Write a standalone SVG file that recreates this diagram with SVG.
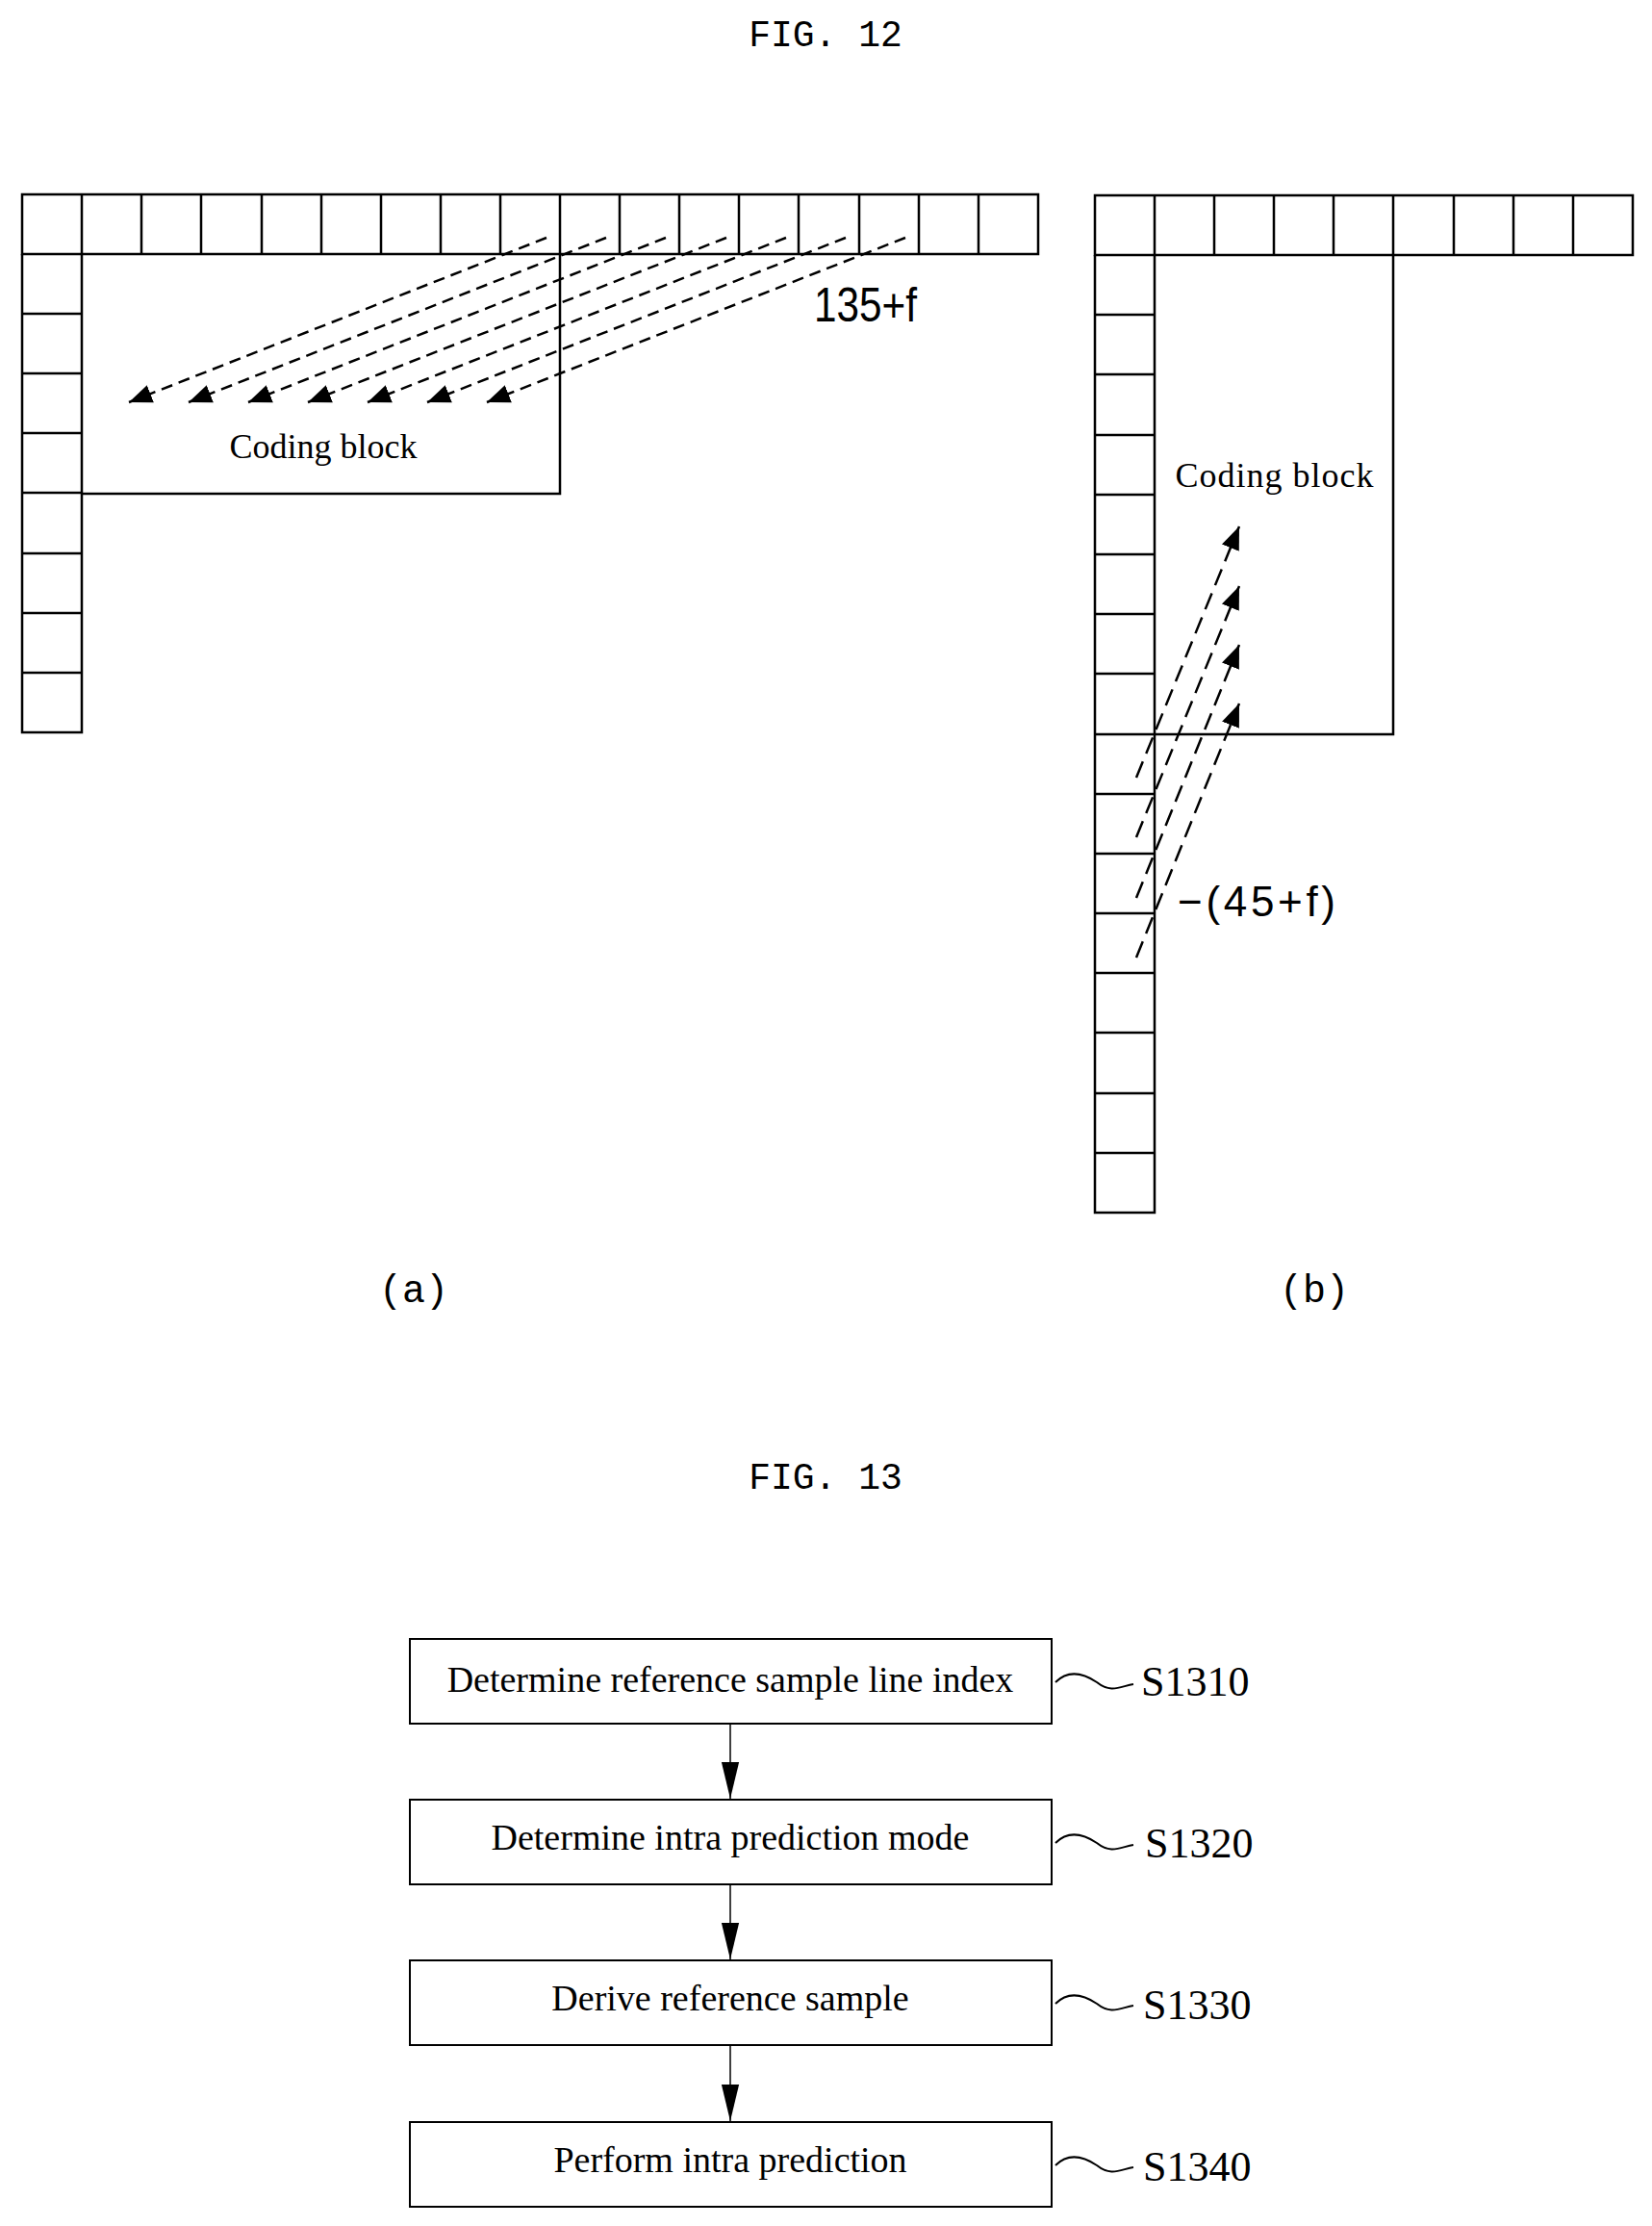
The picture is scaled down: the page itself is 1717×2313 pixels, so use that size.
<svg xmlns="http://www.w3.org/2000/svg" width="1717" height="2313" viewBox="0 0 1717 2313">
<style>
.c{fill:none;stroke:#000;stroke-width:2.5}
.d{fill:none;stroke:#000;stroke-width:2.5;stroke-dasharray:12,7}
.d2{fill:none;stroke:#000;stroke-width:2.5;stroke-dasharray:18,9}
.fig{font-family:"Liberation Mono",monospace;font-size:38px}
.ser{font-family:"Liberation Serif",serif;font-size:36px}
.lab{font-family:"Liberation Sans",sans-serif;font-size:44px}
.box{fill:#fff;stroke:#000;stroke-width:2}
.st{font-family:"Liberation Serif",serif;font-size:38px;text-anchor:middle}
.sn{font-family:"Liberation Serif",serif;font-size:44px}
</style>
<defs>
<marker id="ah2" viewBox="0 0 10 10" refX="10" refY="5" markerWidth="24" markerHeight="24" orient="auto" markerUnits="userSpaceOnUse">
<path d="M0,1 L10,5 L0,9 z" fill="#000"/></marker>
<marker id="af" viewBox="0 0 10 10" refX="10" refY="5" markerWidth="38" markerHeight="38" orient="auto" markerUnits="userSpaceOnUse">
<path d="M0,2.6 L10,5 L0,7.4 z" fill="#000"/></marker>
</defs>
<text class="fig" x="858" y="48" text-anchor="middle">FIG. 12</text>
<g id="fig12a">
<path class="c" d="M23,202 H1079 V264 H23 Z M85,202 V264 M147,202 V264 M209,202 V264 M272,202 V264 M334,202 V264 M396,202 V264 M458,202 V264 M520,202 V264 M582,202 V264 M644,202 V264 M706,202 V264 M768,202 V264 M830,202 V264 M893,202 V264 M955,202 V264 M1017,202 V264"/>
<path class="c" d="M23,264 V761 H85 V264 M23,326 H85 M23,388 H85 M23,450 H85 M23,512 H85 M23,575 H85 M23,637 H85 M23,699 H85"/>
<path class="c" d="M582,264 V513 H85"/>
<text class="ser" x="336" y="476" text-anchor="middle">Coding block</text>
<text class="lab" x="846" y="334" textLength="107" lengthAdjust="spacingAndGlyphs" style="font-size:50px">135+f</text>
</g>
<g id="fig12b">
<path class="c" d="M1138,203 H1697 V265 H1138 Z M1200,203 V265 M1262,203 V265 M1324,203 V265 M1386,203 V265 M1448,203 V265 M1511,203 V265 M1573,203 V265 M1635,203 V265"/>
<path class="c" d="M1138,265 V1260 H1200 V265 M1138,327 H1200 M1138,389 H1200 M1138,452 H1200 M1138,514 H1200 M1138,576 H1200 M1138,638 H1200 M1138,700 H1200 M1138,763 H1200 M1138,825 H1200 M1138,887 H1200 M1138,949 H1200 M1138,1011 H1200 M1138,1073 H1200 M1138,1136 H1200 M1138,1198 H1200"/>
<path class="c" d="M1448,265 V763 H1200"/>
<text class="ser" x="1325" y="506" text-anchor="middle" style="letter-spacing:1px">Coding block</text>
<text class="lab" x="1224" y="952" textLength="164" lengthAdjust="spacing">−(45+f)</text>
</g>
<g id="connectors12">
<path class="d" marker-end="url(#ah2)" d="M568,247 L134,418"/>
<path class="d" marker-end="url(#ah2)" d="M630,247 L196,418"/>
<path class="d" marker-end="url(#ah2)" d="M692,247 L258,418"/>
<path class="d" marker-end="url(#ah2)" d="M755,247 L320,418"/>
<path class="d" marker-end="url(#ah2)" d="M817,247 L382,418"/>
<path class="d" marker-end="url(#ah2)" d="M879,247 L444,418"/>
<path class="d" marker-end="url(#ah2)" d="M941,247 L506,418"/>
<path class="d2" marker-end="url(#ah2)" d="M1181,808 L1288,547"/>
<path class="d2" marker-end="url(#ah2)" d="M1181,870 L1288,609"/>
<path class="d2" marker-end="url(#ah2)" d="M1181,933 L1288,670"/>
<path class="d2" marker-end="url(#ah2)" d="M1181,995 L1288,731"/>
</g>
<text x="430" y="1353" text-anchor="middle" style="font-family:'Liberation Mono',monospace;font-size:40px">(a)</text>
<text x="1366" y="1353" text-anchor="middle" style="font-family:'Liberation Mono',monospace;font-size:40px">(b)</text>
<text class="fig" x="858" y="1547" text-anchor="middle">FIG. 13</text>
<g id="s1310"><rect class="box" x="426" y="1703" width="667" height="88"/><text class="st" x="759" y="1758">Determine reference sample line index</text><path class="c" style="stroke-width:2" d="M1097,1748 C1110,1735 1125,1738 1140,1748 C1155,1760 1165,1752 1178,1750"/><text class="sn" x="1186" y="1762">S1310</text></g>
<g id="s1320"><rect class="box" x="426" y="1870" width="667" height="88"/><text class="st" x="759" y="1922">Determine intra prediction mode</text><path class="c" style="stroke-width:2" d="M1097,1915 C1110,1902 1125,1905 1140,1915 C1155,1927 1165,1919 1178,1917"/><text class="sn" x="1190" y="1930">S1320</text></g>
<g id="s1330"><rect class="box" x="426" y="2037" width="667" height="88"/><text class="st" x="759" y="2089">Derive reference sample</text><path class="c" style="stroke-width:2" d="M1097,2082 C1110,2069 1125,2072 1140,2082 C1155,2094 1165,2086 1178,2084"/><text class="sn" x="1188" y="2098">S1330</text></g>
<g id="s1340"><rect class="box" x="426" y="2205" width="667" height="88"/><text class="st" x="759" y="2257">Perform intra prediction</text><path class="c" style="stroke-width:2" d="M1097,2250 C1110,2237 1125,2240 1140,2250 C1155,2262 1165,2254 1178,2252"/><text class="sn" x="1188" y="2266">S1340</text></g>
<g id="connectors13">
<path class="c" style="stroke-width:1.5" marker-end="url(#af)" d="M759,1791 V1869"/>
<path class="c" style="stroke-width:1.5" marker-end="url(#af)" d="M759,1958 V2036"/>
<path class="c" style="stroke-width:1.5" marker-end="url(#af)" d="M759,2125 V2204"/>
</g>
</svg>
